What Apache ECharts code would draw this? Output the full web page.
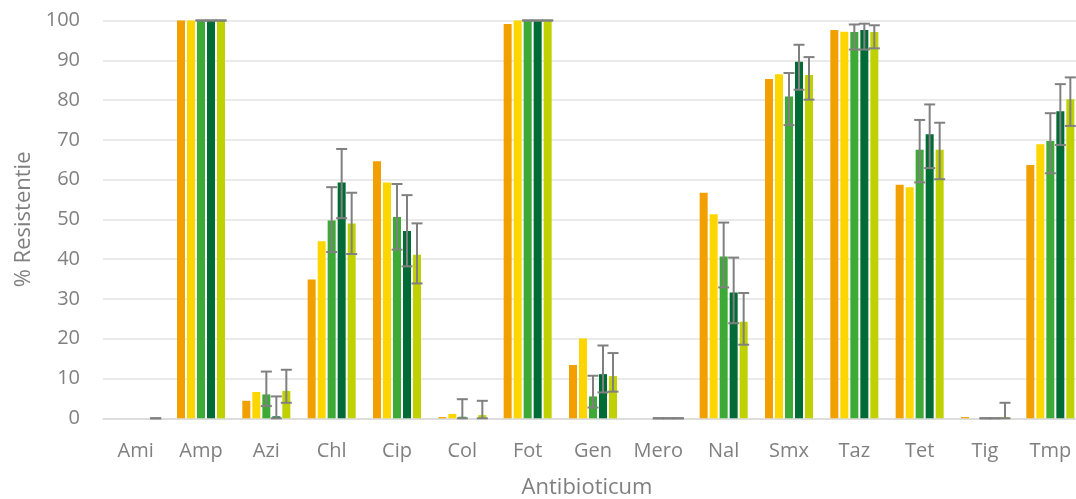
<!DOCTYPE html>
<html><head><meta charset="utf-8">
<script src="https://cdn.jsdelivr.net/npm/echarts@6/dist/echarts.min.js"></script>
<style>html,body{margin:0;padding:0;background:#fff;overflow:hidden}#c{width:1076px;height:499px}</style>
</head><body><div id="c"></div>
<script>
const categories = ['Ami','Amp','Azi','Chl','Cip','Col','Fot','Gen','Mero','Nal','Smx','Taz','Tet','Tig','Tmp'];
const yTicks = [0,10,20,30,40,50,60,70,80,90,100];
const s1 = [0,100,4.4,34.9,64.6,0.3,99.1,13.4,0,56.7,85.3,97.6,58.7,0.3,63.7];
const s2 = [0,100,6.6,44.5,59.3,1.1,100,20.1,0,51.3,86.5,97.2,58.1,0,68.9];
const s3 = [0,100,6.0,49.7,50.6,0.4,100,5.5,0,40.7,80.9,97.1,67.5,0,69.7];
const s4 = [0,100,0.5,59.3,47.1,0,100,11.1,0,31.6,89.6,97.6,71.4,0,77.2];
const s5 = [0,100,6.9,49.0,41.1,0.8,100,10.6,0,24.3,86.3,97.1,67.5,0.3,80.2];
const s3Low  = [null,100,3.1,41.8,42.4,0,100,2.7,0,32.9,73.7,92.7,59.3,0,61.6];
const s3High = [null,100,11.75,58.1,58.9,4.8,100,10.7,0,49.2,86.8,99.0,75.0,0,76.7];
const s4Low  = [null,100,0,50.3,38.2,null,100,6.5,0,23.9,82.6,92.7,62.9,0,68.7];
const s4High = [null,100,5.5,67.7,56.1,null,100,18.3,0,40.4,93.9,99.2,78.9,0,84.0];
const s5Low  = [0,100,3.9,41.3,33.9,0,100,6.7,0,18.5,80.1,93.0,60.1,0,73.5];
const s5High = [0,100,12.2,56.7,49.0,4.4,100,16.4,0,31.5,90.8,98.8,74.3,3.9,85.7];

const colors = ['#F29F00','#FDD600','#3DAA35','#006B35','#BFD200'];
const names = ['Serie 1','Serie 2','Serie 3','Serie 4','Serie 5'];
const BAR_W = 8, BAR_GAP = 2, NBARS = 5;
const font = '"Open Sans", sans-serif';

function errSeries(seriesIdx, low, high) {
  const data = categories.map((c, i) => (low[i] == null ? null : [i, low[i], high[i]])).filter(d => d);
  return {
    type: 'custom', z: 10, silent: true,
    data: data,
    encode: { x: 0, y: [1, 2] },
    renderItem: function (params, api) {
      const ci = api.value(0);
      const lo = api.coord([ci, api.value(1)]);
      const hi = api.coord([ci, api.value(2)]);
      const groupW = NBARS * BAR_W + (NBARS - 1) * BAR_GAP;
      const x = lo[0] - groupW / 2 + seriesIdx * (BAR_W + BAR_GAP) + BAR_W / 2;
      const hw = 5.5;
      const style = { stroke: '#808080', lineWidth: 2 };
      return {
        type: 'group',
        children: [
          { type: 'line', shape: { x1: x, y1: lo[1], x2: x, y2: hi[1] }, style: style },
          { type: 'line', shape: { x1: x - hw, y1: lo[1], x2: x + hw, y2: lo[1] }, style: style },
          { type: 'line', shape: { x1: x - hw, y1: hi[1], x2: x + hw, y2: hi[1] }, style: style }
        ]
      };
    }
  };
}

const values = [s1, s2, s3, s4, s5];
const series = values.map((v, k) => ({
  name: names[k], type: 'bar', data: v, barWidth: BAR_W, barGap: (BAR_GAP / BAR_W * 100) + '%',
  itemStyle: { color: colors[k] }, z: 2
}));
series.push(errSeries(2, s3Low, s3High));
series.push(errSeries(3, s4Low, s4High));
series.push(errSeries(4, s5Low, s5High));

const chart = echarts.init(document.getElementById('c'), null, { renderer: 'canvas' });
chart.setOption({
  animation: false,
  backgroundColor: '#fff',
  grid: { left: 103, width: 980, top: 20.5, bottom: 80.7, containLabel: false, outerBoundsMode: 'none' },
  xAxis: {
    type: 'category', data: categories,
    name: 'Antibioticum', nameLocation: 'middle', nameGap: 58,
    nameTextStyle: { color: '#808080', fontSize: 22, fontFamily: font, padding: [0, 0, 0, -12] },
    axisLine: { lineStyle: { color: '#d9d9d9', width: 1.5 } },
    axisTick: { show: false },
    axisLabel: { color: '#808080', fontSize: 20, fontFamily: font, margin: 23 }
  },
  yAxis: {
    type: 'value', min: 0, max: 100, interval: 10,
    name: '% Resistentie', nameLocation: 'middle', nameGap: 66, nameRotate: 90,
    nameTextStyle: { color: '#808080', fontSize: 22, fontFamily: font },
    axisLine: { show: false }, axisTick: { show: false },
    axisLabel: { color: '#808080', fontSize: 20, fontFamily: font, margin: 23,
      formatter: v => (yTicks.indexOf(v) >= 0 ? String(v) : '') },
    splitLine: { lineStyle: { color: '#e3e3e3', width: 1.5 } }
  },
  series: series
});
</script></body></html>
